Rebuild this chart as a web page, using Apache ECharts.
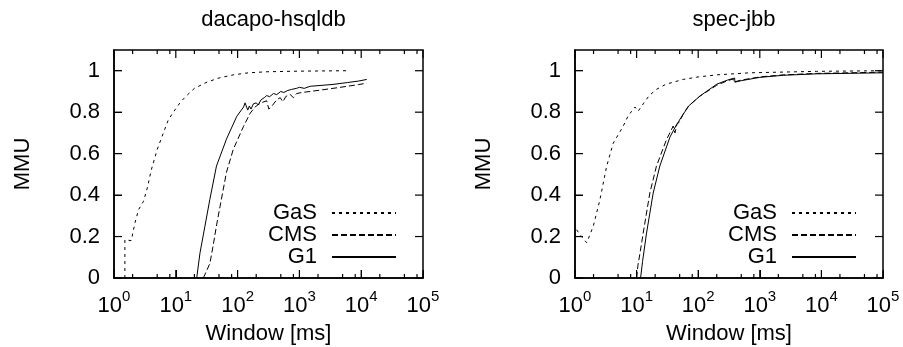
<!DOCTYPE html>
<html>
<head>
<meta charset="utf-8">
<script src="https://cdn.jsdelivr.net/npm/echarts@6/dist/echarts.min.js"></script>
<style>html,body{margin:0;padding:0;background:#fff}#c{width:903px;height:347px}</style>
</head>
<body>
<div id="c"></div>
<script>
// ---- data (x = window in ms, y = MMU) ----
const titles = ['dacapo-hsqldb', 'spec-jbb'];
const seriesNames = ['GaS', 'CMS', 'G1'];
const xMajorTickValues = [1, 10, 100, 1000, 10000, 100000];
const xMinorTickValues = [2, 5, 8, 20, 50, 80, 200, 500, 800, 2000, 5000, 8000, 20000, 50000, 80000];
const yTickValues = [0, 0.2, 0.4, 0.6, 0.8, 1];

const hsqldbGaS = [[1.5,0],[1.5,0.185],[1.9,0.18],[2.2,0.27],[2.5,0.33],[3.0,0.37],[3.5,0.44],[4.0,0.52],[5.0,0.62],[6.3,0.70],[7.5,0.76],[9.1,0.80],[12,0.85],[15,0.88],[20,0.915],[32,0.945],[50,0.965],[85,0.98],[150,0.99],[300,0.995],[1000,0.998],[5800,1.0]];
const hsqldbCMS = [[27.9,0],[35.6,0.07],[40.4,0.16],[46,0.26],[52,0.345],[66,0.51],[85,0.62],[124,0.73],[160,0.795],[175,0.81],[200,0.83],[240,0.845],[295,0.855],[320,0.815],[360,0.83],[430,0.86],[490,0.87],[540,0.85],[600,0.875],[705,0.886],[800,0.87],[900,0.89],[1100,0.895],[1500,0.9],[2000,0.905],[3500,0.915],[6000,0.925],[9000,0.933],[12300,0.94]];
const hsqldbG1 = [[21.8,0],[24.6,0.12],[29.6,0.25],[35.6,0.38],[45.5,0.54],[66,0.67],[97,0.78],[125,0.825],[132,0.845],[146,0.81],[155,0.83],[165,0.815],[180,0.84],[200,0.845],[215,0.835],[240,0.86],[270,0.87],[295,0.88],[330,0.875],[380,0.89],[430,0.885],[500,0.9],[560,0.895],[650,0.905],[750,0.91],[900,0.915],[1000,0.92],[1200,0.915],[1500,0.925],[2000,0.928],[3500,0.934],[6000,0.943],[9000,0.95],[12300,0.958]];

const specGaS = [[1.06,0.233],[1.2,0.21],[1.36,0.19],[1.55,0.17],[1.98,0.25],[2.54,0.378],[3.27,0.54],[4.17,0.65],[6.0,0.73],[7.5,0.79],[8.8,0.81],[9.4,0.825],[10.6,0.805],[12.8,0.84],[16,0.88],[21,0.91],[30,0.935],[57,0.958],[100,0.97],[200,0.98],[690,0.99],[2000,0.993],[8300,0.997],[100000,1.0]];
const specCMS = [[10,0],[10.5,0.06],[11.5,0.13],[12.8,0.217],[16.4,0.41],[21,0.54],[30.6,0.668],[36,0.71],[39.2,0.733],[42,0.70],[45,0.74],[50,0.755],[57,0.79],[70,0.83],[106,0.877],[200,0.93],[300,0.952],[370,0.96],[375,0.945],[500,0.955],[1000,0.97],[2400,0.98],[8300,0.987],[100000,0.993]];
const specG1 = [[11.6,0],[12.5,0.08],[14.5,0.217],[18.6,0.41],[23.8,0.54],[34.8,0.68],[44.5,0.74],[48,0.755],[57,0.79],[70,0.83],[106,0.877],[200,0.935],[300,0.955],[390,0.965],[395,0.945],[500,0.952],[1000,0.968],[2400,0.978],[8300,0.985],[100000,0.99]];

const panels = [[hsqldbGaS, hsqldbCMS, hsqldbG1], [specGaS, specCMS, specG1]];

// ---- styling ----
const FONT = 'Liberation Sans, Arial, sans-serif';
const FS = 22;
const X_MIN = 1, X_MAX = 100000, Y_MIN = 0, Y_MAX = 1.1;
const MAJOR_LEN = 8, MINOR_LEN = 4;
const lineTypes = [[3, 4], [6, 3], 'solid'];
const grids = [
  {left: 114, top: 50, width: 309, height: 228, outerBoundsMode: 'none', containLabel: false,
   show: true, borderColor: '#000', borderWidth: 1.5, backgroundColor: 'rgba(0,0,0,0)'},
  {left: 575, top: 50, width: 308, height: 228, outerBoundsMode: 'none', containLabel: false,
   show: true, borderColor: '#000', borderWidth: 1.5, backgroundColor: 'rgba(0,0,0,0)'}
];
const centers = [268.5, 729];
const legendRight = [506, 46];

const xAxes = [], yAxes = [], series = [], title = [], legend = [];
grids.forEach((g, gi) => {
  xAxes.push({
    gridIndex: gi, type: 'log', logBase: 10, min: X_MIN, max: X_MAX,
    position: 'bottom', splitLine: {show: false},
    name: 'Window [ms]', nameLocation: 'middle', nameGap: 45,
    nameTextStyle: {fontFamily: FONT, fontSize: FS, color: '#000'},
    axisLine: {show: true, onZero: false, lineStyle: {color: '#000', width: 1.5}},
    axisTick: {show: true, inside: true, length: MAJOR_LEN, lineStyle: {color: '#000', width: 1}},
    axisLabel: {
      show: true, margin: 11,
      formatter: v => '{b|10}{s|' + Math.round(Math.log10(v)) + '}',
      rich: {
        b: {fontFamily: FONT, fontSize: FS, color: '#000', verticalAlign: 'bottom', lineHeight: 28},
        s: {fontFamily: FONT, fontSize: 15, color: '#000', verticalAlign: 'top', lineHeight: 15}
      }
    }
  });
  yAxes.push({
    gridIndex: gi, type: 'value', min: Y_MIN, max: Y_MAX, interval: 0.2,
    position: 'left', splitLine: {show: false},
    name: 'MMU', nameLocation: 'middle', nameGap: 80, nameRotate: 90,
    nameTextStyle: {fontFamily: FONT, fontSize: FS, color: '#000'},
    axisLine: {show: true, onZero: false, lineStyle: {color: '#000', width: 1.5}},
    axisTick: {show: true, inside: true, length: MAJOR_LEN, lineStyle: {color: '#000', width: 1}},
    axisLabel: {show: true, margin: 14, showMaxLabel: false, fontFamily: FONT, fontSize: FS, color: '#000'}
  });

  panels[gi].forEach((data, si) => {
    series.push({
      name: seriesNames[si], type: 'line',
      xAxisIndex: gi, yAxisIndex: gi,
      data: data, showSymbol: false, symbol: 'none',
      lineStyle: {color: '#000', width: 1, type: lineTypes[si]},
      itemStyle: {color: '#000'}
    });
  });

  title.push({
    text: titles[gi], left: centers[gi], top: 4, textAlign: 'center',
    textStyle: {fontFamily: FONT, fontSize: FS, fontWeight: 'normal', color: '#000'}
  });
  legend.push({
    data: seriesNames, orient: 'vertical', align: 'right', padding: 0,
    right: legendRight[gi], top: 202, itemWidth: 64, itemHeight: 12, itemGap: 0,
    selectedMode: false,
    itemStyle: {color: 'rgba(0,0,0,0)', borderColor: 'rgba(0,0,0,0)', borderWidth: 0},
    textStyle: {fontFamily: FONT, fontSize: FS, color: '#000', lineHeight: 22, padding: [0, 10, 0, 0]}
  });
});

const chart = echarts.init(document.getElementById('c'));
chart.setOption({
  backgroundColor: '#fff',
  animation: false,
  title: title,
  legend: legend,
  grid: grids,
  xAxis: xAxes,
  yAxis: yAxes,
  series: series
});

// Mirrored inward tick marks on all four sides, placed through each grid's own scales
// (convertToPixel), drawn as graphic elements.
const tickEls = [];
function tickLine(p, dx, dy) {
  tickEls.push({
    type: 'line', silent: true, z: 100,
    shape: {x1: p[0], y1: p[1], x2: p[0] + dx, y2: p[1] + dy},
    style: {stroke: '#000', lineWidth: 1.2}
  });
}
grids.forEach((g, gi) => {
  const px = v => chart.convertToPixel({gridIndex: gi}, v);
  const addX = (vals, len) => vals.forEach(v => {
    tickLine(px([v, Y_MIN]), 0, -len);
    tickLine(px([v, Y_MAX]), 0, len);
  });
  addX(xMajorTickValues, MAJOR_LEN);
  addX(xMinorTickValues, MINOR_LEN);
  yTickValues.forEach(v => {
    tickLine(px([X_MIN, v]), MAJOR_LEN, 0);
    tickLine(px([X_MAX, v]), -MAJOR_LEN, 0);
  });
});
chart.setOption({graphic: {elements: tickEls}});
</script>
</body>
</html>
